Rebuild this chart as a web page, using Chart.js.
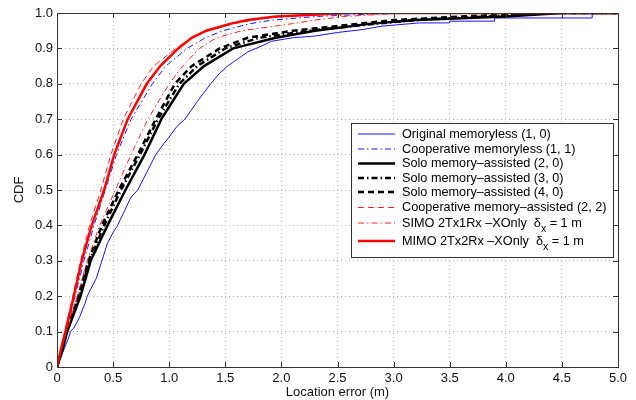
<!DOCTYPE html>
<html>
<head>
<meta charset="utf-8">
<script src="https://cdn.jsdelivr.net/npm/chart.js@4"></script>
<style>
  body { margin: 0; background: #fff; }
  #wrap { width: 636px; height: 400px; }
</style>
</head>
<body>
<div id="wrap"><canvas id="chart"></canvas></div>
<script>
// CDF levels shared by the smooth curves
const cdfLevels = [0, 0.05, 0.1, 0.2, 0.3, 0.4, 0.5, 0.6, 0.7, 0.8, 0.85, 0.9, 0.93, 0.95, 0.97, 0.98, 0.99, 1.0, 1.0];

// location error (m) at each CDF level
const coopMemorylessX = [0, 0.04, 0.08, 0.16, 0.24, 0.33, 0.43, 0.53, 0.66, 0.85, 0.97, 1.16, 1.32, 1.48, 1.72, 1.92, 2.3, 3.0, 5];
const solo20X         = [0, 0.05, 0.09, 0.21, 0.30, 0.45, 0.61, 0.78, 0.93, 1.13, 1.31, 1.57, 1.95, 2.3, 2.8, 3.2, 4.0, 4.5, 5];
const solo30X         = [0, 0.045, 0.09, 0.20, 0.29, 0.42, 0.57, 0.74, 0.90, 1.09, 1.25, 1.5, 1.8, 2.25, 2.85, 3.2, 3.8, 4.4, 5];
const solo40X         = [0, 0.045, 0.085, 0.19, 0.28, 0.40, 0.55, 0.72, 0.88, 1.05, 1.2, 1.45, 1.7, 2.1, 2.7, 3.0, 3.6, 4.3, 5];
const coopAssisted22X = [0, 0.035, 0.07, 0.14, 0.21, 0.29, 0.39, 0.48, 0.59, 0.75, 0.86, 1.06, 1.2, 1.35, 1.58, 1.75, 2.0, 2.7, 5];
const simoX           = [0, 0.04, 0.085, 0.18, 0.27, 0.38, 0.52, 0.66, 0.81, 1.0, 1.12, 1.27, 1.42, 1.65, 2.1, 2.3, 2.55, 3.1, 5];
const mimoX           = [0, 0.035, 0.075, 0.15, 0.22, 0.31, 0.42, 0.51, 0.63, 0.80, 0.92, 1.08, 1.2, 1.33, 1.55, 1.7, 1.95, 2.6, 5];

// original memoryless curve is jagged, so it has its own points
const origX = [0, 0.05, 0.1, 0.12, 0.15, 0.2, 0.25, 0.27, 0.3, 0.35, 0.4, 0.45, 0.5, 0.54, 0.6, 0.66, 0.72, 0.8, 0.88, 0.95, 1.0, 1.07, 1.14, 1.25, 1.37, 1.45, 1.52, 1.61, 1.7, 1.82, 1.91, 2.1, 2.3, 2.5, 2.72, 2.9, 3.23, 3.5, 3.5, 3.9, 3.9, 4.77, 4.77, 5];
const origY = [0, 0.04, 0.08, 0.10, 0.11, 0.14, 0.18, 0.20, 0.22, 0.25, 0.30, 0.35, 0.38, 0.40, 0.44, 0.48, 0.50, 0.55, 0.60, 0.63, 0.65, 0.68, 0.70, 0.75, 0.80, 0.83, 0.85, 0.87, 0.89, 0.906, 0.92, 0.93, 0.935, 0.945, 0.953, 0.963, 0.972, 0.972, 0.977, 0.977, 0.986, 0.986, 0.998, 1.0];

const labels = [
    "Original memoryless (1, 0)",
    "Cooperative memoryless (1, 1)",
    "Solo memory–assisted (2, 0)",
    "Solo memory–assisted (3, 0)",
    "Solo memory–assisted (4, 0)",
    "Cooperative memory–assisted (2, 2)",
    "SIMO 2Tx1Rx –XOnly  δ_x = 1 m",
    "MIMO 2Tx2Rx –XOnly  δ_x = 1 m",
];

const xTicks = [0, 0.5, 1, 1.5, 2, 2.5, 3, 3.5, 4, 4.5, 5];
const yTicks = [0, 0.1, 0.2, 0.3, 0.4, 0.5, 0.6, 0.7, 0.8, 0.9, 1];

function toPoints(xs, ys) {
    return xs.map((x, i) => ({ x: x, y: ys[i] }));
}

const DASH = [6, 4];
const DASHDOT = [6, 3, 1.5, 3];

const styles = [
    { color: "#1515ff", width: 1,   dash: [] },
    { color: "#1515ff", width: 1,   dash: DASHDOT },
    { color: "#000000", width: 2.5, dash: [] },
    { color: "#000000", width: 2.5, dash: DASHDOT },
    { color: "#000000", width: 2.5, dash: DASH },
    { color: "#ff2020", width: 1,   dash: DASH },
    { color: "#ff2020", width: 1,   dash: DASHDOT },
    { color: "#ff0000", width: 2.5, dash: [] },
];

const seriesData = [
    toPoints(origX, origY),
    toPoints(coopMemorylessX, cdfLevels),
    toPoints(solo20X, cdfLevels),
    toPoints(solo30X, cdfLevels),
    toPoints(solo40X, cdfLevels),
    toPoints(coopAssisted22X, cdfLevels),
    toPoints(simoX, cdfLevels),
    toPoints(mimoX, cdfLevels),
];

const FONT = "'Liberation Sans', Arial, Helvetica, sans-serif";

// MATLAB style box with inward ticks
const boxPlugin = {
    id: "box",
    afterDatasetsDraw(chart) {
        const { ctx, chartArea: a, scales } = chart;
        ctx.save();
        ctx.strokeStyle = "#333";
        ctx.lineWidth = 1;
        ctx.setLineDash([]);
        ctx.strokeRect(Math.round(a.left) + 0.5, Math.round(a.top) + 0.5,
                       Math.round(a.right - a.left), Math.round(a.bottom - a.top));
        ctx.beginPath();
        for (const v of xTicks) {
            const px = Math.round(scales.x.getPixelForValue(v)) + 0.5;
            ctx.moveTo(px, a.bottom); ctx.lineTo(px, a.bottom - 5);
            ctx.moveTo(px, a.top);    ctx.lineTo(px, a.top + 5);
        }
        for (const v of yTicks) {
            const py = Math.round(scales.y.getPixelForValue(v)) + 0.5;
            ctx.moveTo(a.left, py);  ctx.lineTo(a.left + 5, py);
            ctx.moveTo(a.right, py); ctx.lineTo(a.right - 5, py);
        }
        ctx.stroke();
        ctx.restore();
    },
};

// legend box inside the plot, lower right
const legendPlugin = {
    id: "boxLegend",
    afterDraw(chart) {
        const { ctx, chartArea: a } = chart;
        const right = a.right - 5, left = right - 262;
        const top = a.top + 110, bottom = top + 134;
        const rows = [134, 149, 163.5, 178, 192, 207.5, 223, 241];
        ctx.save();
        ctx.fillStyle = "#fff";
        ctx.fillRect(left, top, right - left, bottom - top);
        ctx.strokeStyle = "#333";
        ctx.lineWidth = 1;
        ctx.strokeRect(Math.round(left) + 0.5, Math.round(top) + 0.5,
                       Math.round(right - left), Math.round(bottom - top));
        chart.data.datasets.forEach((ds, i) => {
            const y = rows[i] - 123 + top;
            ctx.strokeStyle = ds.borderColor;
            ctx.lineWidth = ds.borderWidth;
            ctx.setLineDash(ds.borderDash);
            ctx.beginPath();
            ctx.moveTo(left + 7, y);
            ctx.lineTo(left + 44, y);
            ctx.stroke();
            ctx.setLineDash([]);
            ctx.fillStyle = "#000";
            ctx.textBaseline = "middle";
            ctx.font = "12.7px " + FONT;
            let x = left + 51;
            const parts = ds.label.split("_x");
            ctx.fillText(parts[0], x, y);
            if (parts.length > 1) {
                x += ctx.measureText(parts[0]).width;
                ctx.font = "10.5px " + FONT;
                ctx.fillText("x", x, y + 6);
                x += ctx.measureText("x").width;
                ctx.font = "12.7px " + FONT;
                ctx.fillText(parts[1], x, y);
            }
        });
        ctx.restore();
    },
};

new Chart(document.getElementById("chart"), {
    type: "scatter",
    data: {
        datasets: seriesData.map((pts, i) => ({
            label: labels[i],
            data: pts,
            showLine: true,
            borderColor: styles[i].color,
            borderWidth: styles[i].width,
            borderDash: styles[i].dash,
            pointRadius: 0,
            tension: 0,
            order: 7 - i,
        })),
    },
    options: {
        responsive: true,
        maintainAspectRatio: false,
        animation: false,
        layout: { padding: { top: 13, right: 18, left: 0, bottom: 0 } },
        plugins: {
            legend: { display: false },
            tooltip: { enabled: false },
        },
        scales: {
            x: {
                type: "linear",
                min: 0, max: 5,
                afterBuildTicks: (s) => { s.ticks = xTicks.map(v => ({ value: v })); },
                afterFit: (s) => { s.height = 33; },
                grid: { color: "#b5b5b5", drawTicks: false },
                border: { display: false, dash: [1, 3] },
                ticks: { color: "#111", padding: 4, font: { family: FONT, size: 13 } },
                title: {
                    display: true, text: "Location error (m)", color: "#111",
                    font: { family: FONT, size: 13 }, padding: { top: 0, bottom: 0 },
                },
            },
            y: {
                type: "linear",
                min: 0, max: 1,
                afterBuildTicks: (s) => { s.ticks = yTicks.map(v => ({ value: v })); },
                afterFit: (s) => { s.width = 57; },
                grid: { color: "#b5b5b5", drawTicks: false },
                border: { display: false, dash: [1, 3] },
                ticks: { color: "#111", padding: 4, font: { family: FONT, size: 13 } },
                title: {
                    display: true, text: "CDF", color: "#111",
                    font: { family: FONT, size: 13 }, padding: { top: 12, bottom: 0 },
                },
            },
        },
    },
    plugins: [boxPlugin, legendPlugin],
});
</script>
</body>
</html>
